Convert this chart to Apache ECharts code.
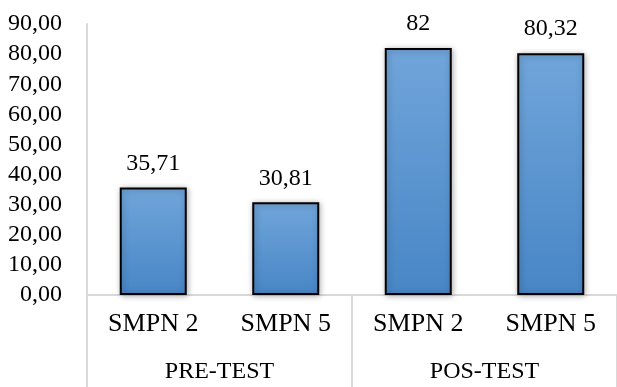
<!DOCTYPE html>
<html>
<head>
<meta charset="utf-8">
<script src="https://cdn.jsdelivr.net/npm/echarts@6/dist/echarts.min.js"></script>
<style>html,body{margin:0;padding:0;background:#fff}#c{width:617px;height:387px}</style>
</head>
<body>
<div id="c"></div>
<script>
const categories = ['SMPN 2', 'SMPN 5', 'SMPN 2', 'SMPN 5'];
const groups = ['PRE-TEST', 'POS-TEST'];
const values = [35.71, 30.81, 82, 80.32];
const yTicks = [0, 10, 20, 30, 40, 50, 60, 70, 80, 90];

const FONT = 'Liberation Serif';
const chart = echarts.init(document.getElementById('c'));
const fmt = v => String(v).replace('.', ',');
chart.setOption({
  animation: false,
  grid: { left: 87, top: 24, width: 533, bottom: 92, containLabel: false },
  xAxis: [
    {
      type: 'category', data: categories, position: 'bottom',
      axisLine: { show: true, lineStyle: { color: '#d9d9d9', width: 2 } },
      axisTick: { show: false },
      axisLabel: { color: '#000', fontFamily: FONT, fontSize: 26, margin: 16 }
    },
    {
      type: 'category', data: groups, position: 'bottom',
      axisLine: { show: false },
      axisTick: { show: true, length: 92, lineStyle: { color: '#d9d9d9', width: 2 } },
      axisLabel: { color: '#000', fontFamily: FONT, fontSize: 24, margin: 65 }
    }
  ],
  yAxis: {
    type: 'value', min: 0, max: 90, interval: 10,
    axisLine: { show: true, lineStyle: { color: '#d9d9d9', width: 2 } },
    axisTick: { show: false },
    splitLine: { show: false },
    axisLabel: {
      color: '#000', fontFamily: FONT, fontSize: 24, margin: 25,
      formatter: v => yTicks.includes(v) ? v.toFixed(2).replace('.', ',') : ''
    }
  },
  series: [{
    type: 'bar', xAxisIndex: 0, data: values, barWidth: 67,
    itemStyle: {
      color: new echarts.graphic.LinearGradient(0, 0, 0, 1, [
        { offset: 0, color: '#70a5da' },
        { offset: 1, color: '#4886c6' }
      ]),
      borderColor: '#000', borderWidth: 2,
      shadowColor: 'rgba(0,0,0,0.3)', shadowBlur: 6, shadowOffsetX: 1, shadowOffsetY: 1
    },
    label: {
      show: true, position: 'top', distance: 12,
      color: '#000', fontFamily: FONT, fontSize: 24,
      formatter: p => fmt(p.value)
    }
  }]
});
</script>
</body>
</html>
